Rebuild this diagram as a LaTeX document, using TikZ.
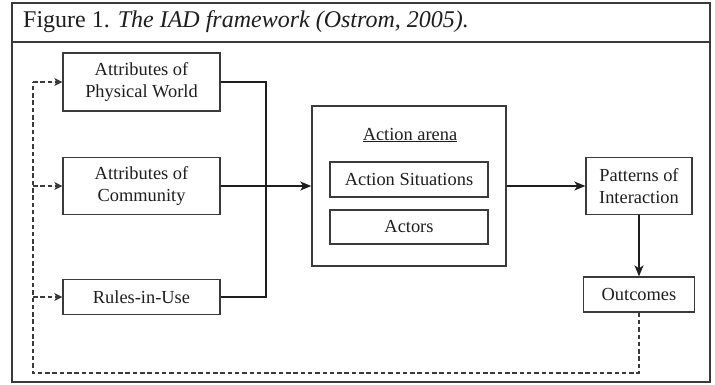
\documentclass[tikz,border=0pt]{standalone}
\usepackage{fontspec}
\setmainfont{Liberation Serif}
\usetikzlibrary{arrows.meta}
\definecolor{ink}{HTML}{1E1E1E}
\definecolor{edge}{HTML}{3A3A3A}
\begin{document}
\begin{tikzpicture}[x=1pt,y=-1pt,
  box/.style={draw=edge,line width=1.3pt,text=ink,align=center,inner sep=0pt,
    font=\fontsize{18.4}{22}\selectfont},
  conn/.style={draw=ink,line width=1.3pt},
  arr/.style={conn,-{Stealth[length=11pt,width=9pt,inset=3pt]}},
  fb/.style={draw=edge,line width=1.2pt,dash pattern=on 4.5pt off 2.8pt},
  fbarr/.style={fb,-{Stealth[length=8pt,width=8pt,inset=2pt]}}]
\useasboundingbox (0,0) rectangle (715,384);
% frame
\draw[edge,line width=1.5pt] (12,3) rectangle (710,382);
\draw[edge,line width=1.5pt] (12,42) -- (710,42);
\node[anchor=base west,text=ink,inner sep=0pt,font=\fontsize{24}{28}\selectfont] (title) at (23,27)
  {Figure 1. \textit{The IAD framework (Ostrom, 2005).}};
% boxes
\node[box,minimum width=157pt,minimum height=58pt] (pw) at (141.5,82) {Attributes of\\Physical World};
\node[box,minimum width=157pt,minimum height=57pt] (com) at (141.5,186) {Attributes of\\Community};
\node[box,minimum width=157pt,minimum height=35pt] (rules) at (141.5,297) {Rules-in-Use};
\node[box,line width=1.5pt,minimum width=194pt,minimum height=160pt] (arena) at (409,186) {};
\node[text=ink,inner sep=0pt,font=\fontsize{18.4}{22}\selectfont,anchor=base] (lbl) at (410,140) {\underline{Action arena}};
\node[box,minimum width=158pt,minimum height=35pt] (sit) at (409,179.5) {Action Situations};
\node[box,minimum width=158pt,minimum height=34pt] (act) at (409,227) {Actors};
\node[box,minimum width=106pt,minimum height=57pt] (pat) at (639,186) {Patterns of\\Interaction};
\node[box,minimum width=111pt,minimum height=35pt] (out) at (639,294.5) {Outcomes};
% connectors
\coordinate (jt) at (266,82);
\coordinate (jb) at (266,297);
\draw[conn] (pw.east) -- (jt) -- (jb) -- (rules.east);
\draw[arr] (com.east) -- (arena.west);
\draw[arr] (arena.east) -- (pat.west);
\draw[arr] (pat.south) -- (out.north);
% feedback
\coordinate (fr) at (639,373);
\coordinate (fl) at (33,373);
\coordinate (ft) at (33,82);
\coordinate (fm) at (33,186);
\coordinate (fbm) at (33,297);
\draw[fb] (out.south) -- (fr) -- (fl) -- (ft);
\draw[fbarr] (ft) -- (pw.west);
\draw[fbarr] (fm) -- (com.west);
\draw[fbarr] (fbm) -- (rules.west);
\end{tikzpicture}
\end{document}
